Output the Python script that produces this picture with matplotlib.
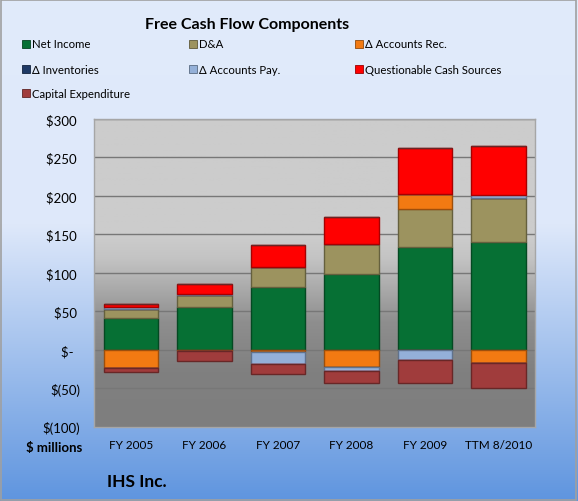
import numpy as np
import matplotlib
matplotlib.use("Agg")
import matplotlib.pyplot as plt
from matplotlib.colors import LinearSegmentedColormap, to_rgb
from matplotlib.patches import Rectangle

plt.rcParams['font.family'] = ['Lato', 'DejaVu Sans']

# dados ($ millions)
categorias = ['FY 2005', 'FY 2006', 'FY 2007', 'FY 2008', 'FY 2009', 'TTM 8/2010']
net_income = [41, 55, 82, 98, 134, 140]
d_a = [12, 16, 26, 39, 49, 57]
accounts_rec = [-24, -2, -3, -23, 19, -17]
inventories = [0, 0, 0, 0, 0, 0]
accounts_pay = [3, 2, -16, -4, -13, 4]
questionable = [4, 12, 28, 36, 60, 64]
capex = [-5, -13, -13, -16, -30, -33]

series = [net_income, d_a, accounts_rec, inventories, accounts_pay, questionable, capex]
nomes = ['Net Income', 'D&A', 'Δ Accounts Rec.', 'Δ Inventories', 'Δ Accounts Pay.',
         'Questionable Cash Sources', 'Capital Expenditure']
cores = ['#067034', '#9C935F', '#F27A12', '#1F3A66', '#94B0D8', '#FF0000', '#A03C3C']
y_ticks = [300, 250, 200, 150, 100, 50, 0, -50, -100]
y_labels = ['$300 ', '$250 ', '$200 ', '$150 ', '$100 ', '$50 ', '$-  ', '$(50)', '$(100)']


def escurecer(c, f=0.65):
    r, g, b = to_rgb(c)
    return (r * f, g * f, b * f)


fig = plt.figure(figsize=(5.78, 5.02), dpi=100)

# fundo da figura com gradiente azul
fundo = fig.add_axes([0, 0, 1, 1], zorder=-10)
cmap_fig = LinearSegmentedColormap.from_list('fig', [(0, '#5F95DF'), (0.55, '#DEE8FA'), (1, '#E1EBFB')])
grad = np.linspace(0, 1, 256).reshape(-1, 1)
fundo.imshow(grad, aspect='auto', cmap=cmap_fig, origin='lower', extent=[0, 1, 0, 1])
fundo.add_patch(Rectangle((0.001, 0.002), 0.996, 0.996, fill=False, edgecolor='#A0A0A0', lw=1.2))
fundo.set_xlim(0, 1)
fundo.set_ylim(0, 1)
fundo.axis('off')

ax = fig.add_axes([0.163, 0.148, 0.763, 0.613])
x = np.arange(len(categorias))

# fundo da área do gráfico (cinzento com gradiente)
cmap_ax = LinearSegmentedColormap.from_list('ax', [(0, '#7E7E7E'), (0.18, '#808080'), (0.34, '#8E8E8E'),
                                                   (0.55, '#C4C4C4'), (0.62, '#CCCCCC'), (1, '#CCCCCC')])
ax.imshow(grad, aspect='auto', cmap=cmap_ax, origin='lower', extent=[-0.5, 5.5, -100, 300], zorder=0)

# barras empilhadas (positivos e negativos separados)
base_pos = np.zeros(len(categorias))
base_neg = np.zeros(len(categorias))
for valores, cor in zip(series, cores):
    v = np.array(valores, dtype=float)
    pos = np.where(v > 0, v, 0)
    neg = np.where(v < 0, v, 0)
    ax.bar(x, pos, bottom=base_pos, width=0.74, color=cor, edgecolor=escurecer(cor), linewidth=1.0, zorder=3)
    ax.bar(x, neg, bottom=base_neg, width=0.74, color=cor, edgecolor=escurecer(cor), linewidth=1.0, zorder=3)
    base_pos += pos
    base_neg += neg

ax.set_xlim(-0.5, 5.5)
ax.set_ylim(-100, 300)
ax.set_yticks(y_ticks)
ax.set_yticklabels(y_labels, fontsize=9.5, color='black')
ax.set_xticks(x)
ax.set_xticklabels(categorias, fontsize=8.5, color='black')
ax.tick_params(axis='y', length=0, pad=10)
ax.tick_params(axis='x', length=0, pad=9)
ax.grid(axis='y', color='#777777', linewidth=1.0, zorder=1)
ax.set_axisbelow(True)
for s in ['top', 'right', 'left', 'bottom']:
    ax.spines[s].set_color('#A6A6A6')
    ax.spines[s].set_linewidth(1.0)

# titulo e legenda manual
fig.text(247 / 578, 1 - 25 / 502, 'Free Cash Flow Components', ha='center', va='center',
         fontsize=11.5, fontweight='bold')
col_x = [22, 189, 355]
row_y = [45, 70, 94]
for i, (nome, cor) in enumerate(zip(nomes, cores)):
    cx = col_x[i % 3]
    cy = row_y[i // 3]
    fig.patches.append(Rectangle((cx / 578, 1 - (cy + 4) / 502), 8 / 578, 8 / 502,
                                 transform=fig.transFigure, facecolor=cor, edgecolor=escurecer(cor, 0.6),
                                 linewidth=0.6))
    fig.text((cx + 10) / 578, 1 - cy / 502, nome, ha='left', va='center', fontsize=8.2)

fig.text(82 / 578, 1 - 448 / 502, '$ millions', ha='right', va='center', fontsize=9.5, fontweight='bold')
fig.text(107 / 578, 1 - 482 / 502, 'IHS Inc.', ha='left', va='center', fontsize=12.5, fontweight='bold')

fig.savefig('out.png', dpi=100)
